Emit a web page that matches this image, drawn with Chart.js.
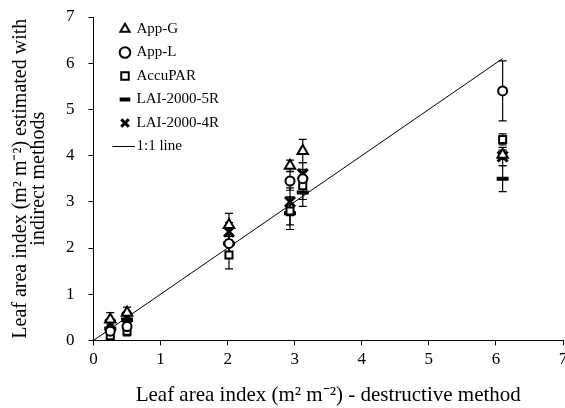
<!DOCTYPE html>
<html>
<head>
<meta charset="utf-8">
<script src="https://cdn.jsdelivr.net/npm/chart.js@4"></script>
<style>
  html, body { margin: 0; padding: 0; background: #fff; overflow: hidden; }
  #wrap { width: 565px; height: 408px; position: relative; }
  canvas { display: block; }
</style>
</head>
<body>
<div id="wrap"><canvas id="laiChart"></canvas></div>
<script>
// destructive LAI (x) for each plot
const destructive = [0.25, 0.5, 2.02, 2.93, 3.12, 6.1];

// indirect estimates
const appG = [0.45, 0.6, 2.5, 3.78, 4.1, 4.02];
const appL = [0.2, 0.3, 2.1, 3.45, 3.5, 5.4];
const accuPAR = [0.1, 0.2, 1.85, 2.8, 3.35, 4.35];
const lai5R = [0.25, 0.45, 2.1, 2.75, 3.2, 3.5];
const lai4R = [0.35, 0.5, 2.35, 3.0, 3.6, 3.98];

// standard deviations (error bars)
const appGErr = [0.15, 0.12, 0.25, 0.12, 0.25, 0.1];
const appLErr = [0.1, 0.1, 0.2, 0.2, 0.2, 0.65];
const accuPARErr = [0.1, 0.1, 0.3, 0.3, 0.3, 0.12];
const lai5RErr = [0.1, 0.1, 0.2, 0.35, 0.3, 0.28];
const lai4RErr = [0.1, 0.1, 0.2, 0.3, 0.25, 0.2];

const axisTicks = [0, 1, 2, 3, 4, 5, 6, 7];
const oneToOne = [0, 6.1];

function toPoints(ys) {
  return destructive.map((x, i) => ({ x: x, y: ys[i] }));
}

const FONT = "'Liberation Serif', 'Times New Roman', serif";

// long line sample for the 1:1 legend entry
const lineIcon = document.createElement("canvas");
lineIcon.width = 44;
lineIcon.height = 3;
(function () {
  const c = lineIcon.getContext("2d");
  c.fillStyle = "#000";
  c.fillRect(0, 1, 32, 1);
})();

// draw vertical error bars under the markers
const errorBars = {
  id: "errorBars",
  beforeDatasetsDraw(chart) {
    const ctx = chart.ctx;
    const xs = chart.scales.x;
    const ys = chart.scales.y;
    ctx.save();
    ctx.strokeStyle = "#000";
    ctx.lineWidth = 1.2;
    chart.data.datasets.forEach((ds) => {
      if (!ds.errors) return;
      ds.data.forEach((p, i) => {
        const e = ds.errors[i];
        const px = xs.getPixelForValue(p.x);
        const top = ys.getPixelForValue(p.y + e);
        const bot = ys.getPixelForValue(p.y - e);
        ctx.beginPath();
        ctx.moveTo(px, top);
        ctx.lineTo(px, bot);
        ctx.moveTo(px - 4, top);
        ctx.lineTo(px + 4, top);
        ctx.moveTo(px - 4, bot);
        ctx.lineTo(px + 4, bot);
        ctx.stroke();
      });
    });
    ctx.restore();
  },
};

// nudge the in-plot legend away from the axes
const legendShift = {
  id: "legendShift",
  afterLayout(chart) {
    const lg = chart.legend;
    if (!lg) return;
    lg.left += 19;
    lg.top += 13;
  },
};

function series(label, ys, errs, style, extra) {
  return Object.assign(
    {
      label: label,
      data: toPoints(ys),
      errors: errs,
      showLine: false,
      pointStyle: style,
      pointRadius: 5,
      pointBorderWidth: 2,
      pointBorderColor: "#000",
      pointBackgroundColor: "#fff",
      borderColor: "#000",
      backgroundColor: "#fff",
    },
    extra || {}
  );
}

new Chart(document.getElementById("laiChart").getContext("2d"), {
  type: "scatter",
  data: {
    datasets: [
      series("App-G", appG, appGErr, "triangle", { pointRadius: 6 }),
      series("App-L", appL, appLErr, "circle", { pointRadius: 4.5 }),
      series("AccuPAR", accuPAR, accuPARErr, "rect", { pointRadius: 5 }),
      series("LAI-2000-5R", lai5R, lai5RErr, "line", {
        pointRadius: 6,
        pointBorderWidth: 4,
      }),
      series("LAI-2000-4R", lai4R, lai4RErr, "crossRot", {
        pointRadius: 7,
        pointBorderWidth: 3,
      }),
      {
        label: "1:1 line",
        data: oneToOne.map((v) => ({ x: v, y: v })),
        showLine: true,
        borderColor: "#000",
        borderWidth: 1,
        pointRadius: 0,
        pointStyle: lineIcon,
        backgroundColor: "#000",
      },
    ],
  },
  plugins: [errorBars, legendShift],
  options: {
    responsive: true,
    maintainAspectRatio: false,
    animation: false,
    layout: {
      autoPadding: false,
      padding: { top: 0, right: 0, left: 12, bottom: 0 },
    },
    plugins: {
      tooltip: { enabled: false },
      legend: {
        position: "chartArea",
        align: "start",
        labels: {
          usePointStyle: true,
          color: "#000",
          font: { family: FONT, size: 15 },
          padding: 8.5,
          boxWidth: 8,
          boxHeight: 7.5,
        },
      },
    },
    scales: {
      x: {
        type: "linear",
        min: 0,
        max: 7,
        afterBuildTicks: (s) => {
          s.ticks = axisTicks.map((v) => ({ value: v }));
        },
        afterFit: (s) => {
          s.paddingRight = 2;
        },
        border: { color: "#000", width: 1 },
        grid: {
          drawOnChartArea: false,
          drawTicks: true,
          tickLength: 5,
          color: "#000",
        },
        ticks: {
          color: "#000",
          font: { family: FONT, size: 17 },
          padding: 4,
        },
        title: {
          display: true,
          text: "Leaf area index (m\u00b2 m\u207b\u00b2) - destructive method",
          color: "#000",
          font: { family: FONT, size: 21 },
          padding: { top: 9, bottom: 0 },
        },
      },
      y: {
        type: "linear",
        min: 0,
        max: 7,
        afterBuildTicks: (s) => {
          s.ticks = axisTicks.map((v) => ({ value: v }));
        },
        afterFit: (s) => {
          s.paddingTop = 17;
        },
        border: { color: "#000", width: 1 },
        grid: {
          drawOnChartArea: false,
          drawTicks: true,
          tickLength: 5,
          color: "#000",
        },
        ticks: {
          color: "#000",
          font: { family: FONT, size: 17 },
          padding: 14,
        },
        title: {
          display: true,
          text: ["Leaf area index (m\u00b2 m\u207b\u00b2) estimated with", "indirect methods"],
          color: "#000",
          font: { family: FONT, size: 20, lineHeight: 0.9 },
          padding: { top: 0, bottom: 4 },
        },
      },
    },
  },
});
</script>
</body>
</html>
